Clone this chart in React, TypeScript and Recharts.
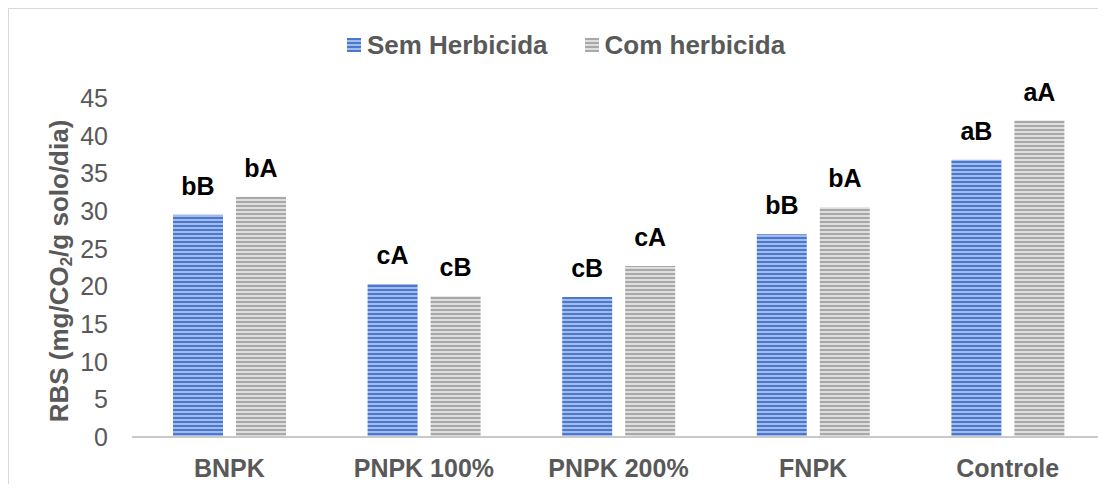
import { BarChart, Bar, XAxis, YAxis, Legend, LabelList } from "recharts";

const categories = ["BNPK", "PNPK 100%", "PNPK 200%", "FNPK", "Controle"];
const semHerbicida = [29.5, 20.3, 18.6, 26.9, 36.8];
const comHerbicida = [31.9, 18.7, 22.7, 30.5, 42.0];
const semLetters = ["bB", "cA", "cB", "bB", "aB"];
const comLetters = ["bA", "cB", "cA", "bA", "aA"];
const yTicks = [0, 5, 10, 15, 20, 25, 30, 35, 40, 45];

const data = categories.map((name, i) => ({
  name,
  sem: semHerbicida[i],
  com: comHerbicida[i],
  semL: semLetters[i],
  comL: comLetters[i],
}));

const FONT = "'Liberation Sans', Arial, sans-serif";
const GREY_TEXT = "#595959";

// striped fills like the excel pattern
const Patterns = () => (
  <defs>
    <pattern id="blueStripe" width="8" height="4" patternUnits="userSpaceOnUse">
      <rect width="8" height="4" fill="#4a78d0" />
      <rect y="2" width="8" height="2" fill="#a3bbe9" />
    </pattern>
    <pattern id="greyStripe" width="8" height="4" patternUnits="userSpaceOnUse">
      <rect width="8" height="4" fill="#a8a8a8" />
      <rect y="2" width="8" height="2" fill="#dedede" />
    </pattern>
  </defs>
);

const LegendBox = () => {
  const items = [
    { label: "Sem Herbicida", fill: "url(#blueStripe)" },
    { label: "Com herbicida", fill: "url(#greyStripe)" },
  ];
  return (
    <div style={{ display: "flex", justifyContent: "center", height: 30, alignItems: "center", marginLeft: 18 }}>
      {items.map((it, i) => (
        <div key={it.label} style={{ display: "flex", alignItems: "center", marginLeft: i ? 37 : 0 }}>
          <svg width={14} height={14} style={{ marginRight: 6 }}>
            <Patterns />
            <rect width={14} height={14} fill={it.fill} />
          </svg>
          <span style={{ fontFamily: FONT, fontWeight: "bold", fontSize: 26, color: GREY_TEXT }}>{it.label}</span>
        </div>
      ))}
    </div>
  );
};

const renderYLabel = () => (
  <text
    x={50}
    y={262}
    transform="rotate(-90 50 262)"
    textAnchor="middle"
    dominantBaseline="central"
    fontFamily={FONT}
    fontWeight="bold"
    fontSize={26}
    fill={GREY_TEXT}
  >
    RBS (mg/CO<tspan dy={7} fontSize={17}>2</tspan>
    <tspan dy={-7}>/g solo/dia)</tspan>
  </text>
);

export default function App() {
  return (
    <div
      style={{
        margin: "-1px 0 0 -1px",
        width: 1099,
        height: 477,
        boxSizing: "border-box",
        borderTop: "2px solid #d9d9d9",
        borderLeft: "2px solid #d9d9d9",
        overflow: "hidden",
        background: "#fff",
      }}
    >
      <BarChart
        width={1096}
        height={475}
        data={data}
        margin={{ top: 59, right: 0, bottom: 0, left: 0 }}
        barSize={50}
        barGap={13}
      >
        <Patterns />
        <Legend
          verticalAlign="top"
          content={<LegendBox />}
          wrapperStyle={{ top: 21, left: 0, width: 1096 }}
        />
        <XAxis
          dataKey="name"
          height={47}
          tickSize={0}
          tickMargin={22}
          axisLine={{ stroke: "#c9c9c9", strokeWidth: 2 }}
          tick={{ fill: GREY_TEXT, fontSize: 25, fontWeight: "bold", fontFamily: FONT }}
        />
        <YAxis
          width={123}
          domain={[0, 45]}
          ticks={yTicks}
          interval={0}
          axisLine={false}
          tickLine={false}
          tickSize={0}
          tickMargin={24}
          tick={{ fill: GREY_TEXT, fontSize: 25, fontFamily: FONT }}
          label={renderYLabel}
        />
        <Bar dataKey="sem" name="Sem Herbicida" fill="url(#blueStripe)" isAnimationActive={false}>
          <LabelList dataKey="semL" position="top" offset={20} fill="#000" fontSize={25} fontWeight="bold" fontFamily={FONT} />
        </Bar>
        <Bar dataKey="com" name="Com herbicida" fill="url(#greyStripe)" isAnimationActive={false}>
          <LabelList dataKey="comL" position="top" offset={20} fill="#000" fontSize={25} fontWeight="bold" fontFamily={FONT} />
        </Bar>
      </BarChart>
    </div>
  );
}
